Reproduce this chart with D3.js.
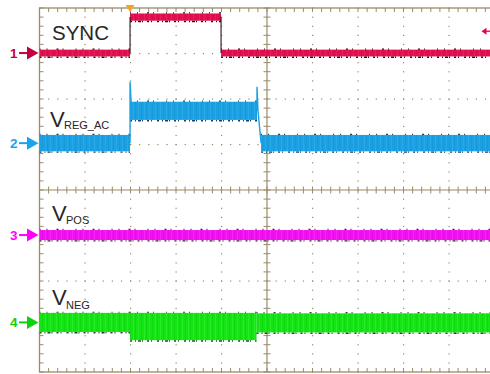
<!DOCTYPE html>
<html><head><meta charset="utf-8">
<script src="https://cdn.jsdelivr.net/npm/d3@7"></script>
<style>html,body{margin:0;padding:0;background:#fff;overflow:hidden}</style>
</head><body>
<svg id="c" width="490" height="374"></svg>
<script>
// ---- data (time in divisions 0..10, amplitude in divisions -4..4) ----
const channels = ["1", "2", "3", "4"];
const channelNames = ["SYNC", "V", "V", "V"];
const channelSubs = ["", "REG_AC", "POS", "NEG"];
const markerColors = ["#c4003e", "#18a4ec", "#ff00ff", "#10d010"];
const markerLevels = [3.01, 1.03, -0.99, -2.91];

const syncStart = [0, 1.99, 3.99];
const syncEnd = [1.99, 3.99, 10];
const syncLevels = [3.01, 3.80, 3.01];
const syncHalf = [0.075, 0.08, 0.075];

const vregStart = [0, 1.99, 4.87];
const vregEnd = [1.99, 4.78, 10];
const vregLevels = [1.03, 1.74, 1.03];
const vregHalf = [0.18, 0.2, 0.18];
const vregSpikeT = [1.99, 4.78];
const vregSpikeV = [2.38, 2.27];

const vposStart = [0];
const vposEnd = [10];
const vposLevels = [-0.99];
const vposHalf = [0.11];

const vnegStart = [0, 1.99, 4.77];
const vnegEnd = [1.99, 4.77, 10];
const vnegLevels = [-2.91, -3.0, -2.92];
const vnegHalf = [0.21, 0.3, 0.21];

const triggerTime = 1.99;
const triggerLevel = 3.49;

// ---- scales ----
const svg = d3.select("#c");
const x = d3.scaleLinear().domain([0, 10]).range([39.5, 494.5]);
const y = d3.scaleLinear().domain([-4, 4]).range([372, 8]);
const gridCol = "#9a8a68";

// noise-like patterns
const defs = svg.append("defs");
function makePattern(id, base, dark, light) {
  const p = defs.append("pattern").attr("id", id).attr("patternUnits", "userSpaceOnUse")
    .attr("width", 11).attr("height", 40);
  p.append("rect").attr("width", 11).attr("height", 40).attr("fill", base);
  [1, 6].forEach(s => p.append("rect").attr("x", s).attr("width", 1).attr("height", 40).attr("fill", light).attr("opacity", 0.25));
  [3, 9].forEach(s => p.append("rect").attr("x", s).attr("width", 1).attr("height", 40).attr("fill", dark).attr("opacity", 0.18));
}
makePattern("p1", "#e0104f", "#b00040", "#ff4080");
makePattern("p2", "#1ba0e2", "#0b78b8", "#50c0f5");
makePattern("p3", "#f010f0", "#c000c0", "#ff60ff");
makePattern("p4", "#14e414", "#00a800", "#60ff60");

// ---- grid ----
const g = svg.append("g");
const minor = d3.range(0, 10.001, 0.2);
const minorY = d3.range(-4, 4.001, 0.2);
const majX = d3.range(1, 10, 1).filter(d => d !== 5);
const majY = d3.range(-3, 4, 1).filter(d => d !== 0);
majX.forEach(t => minorY.forEach(v => g.append("rect").attr("x", x(t) - 0.5).attr("y", y(v) - 0.5).attr("width", 1.2).attr("height", 1.2).attr("fill", gridCol)));
majY.forEach(v => minor.forEach(t => g.append("rect").attr("x", x(t) - 0.5).attr("y", y(v) - 0.5).attr("width", 1.2).attr("height", 1.2).attr("fill", gridCol)));
g.append("line").attr("x1", x(0)).attr("x2", x(10)).attr("y1", y(0)).attr("y2", y(0)).attr("stroke", gridCol).attr("stroke-width", 1.2);
g.append("line").attr("x1", x(5)).attr("x2", x(5)).attr("y1", y(-4)).attr("y2", y(4)).attr("stroke", gridCol).attr("stroke-width", 1.2);
minor.forEach(t => g.append("line").attr("x1", x(t)).attr("x2", x(t)).attr("y1", y(0) - 3.5).attr("y2", y(0) + 3.5).attr("stroke", gridCol).attr("stroke-width", 1));
minorY.forEach(v => g.append("line").attr("x1", x(5) - 3.5).attr("x2", x(5) + 3.5).attr("y1", y(v)).attr("y2", y(v)).attr("stroke", gridCol).attr("stroke-width", 1));
g.append("rect").attr("x", x(0)).attr("y", y(4)).attr("width", x(10) - x(0)).attr("height", y(-4) - y(4)).attr("fill", "none").attr("stroke", gridCol).attr("stroke-width", 1.3);
minor.forEach(t => {
  g.append("line").attr("x1", x(t)).attr("x2", x(t)).attr("y1", y(4)).attr("y2", y(4) + 4).attr("stroke", gridCol);
  g.append("line").attr("x1", x(t)).attr("x2", x(t)).attr("y1", y(-4)).attr("y2", y(-4) - 4).attr("stroke", gridCol);
});
minorY.forEach(v => {
  g.append("line").attr("x1", x(0)).attr("x2", x(0) + 4).attr("y1", y(v)).attr("y2", y(v)).attr("stroke", gridCol);
});

// ---- labels ----
const lab = svg.append("g").attr("font-family", "'Liberation Sans', Arial, sans-serif").attr("fill", "#262626");
lab.append("text").attr("x", 52).attr("y", 40).attr("font-size", 20.5).text(channelNames[0]);
const vpos = [[50, 126.5, 64, 129], [52, 220.5, 66, 224], [52, 304.5, 66, 309]];
vpos.forEach((p, i) => {
  lab.append("text").attr("x", p[0]).attr("y", p[1]).attr("font-size", 22).text(channelNames[i + 1]);
  lab.append("text").attr("x", p[2]).attr("y", p[3]).attr("font-size", 11).text(channelSubs[i + 1]);
});

// ---- traces ----
function band(gr, starts, ends, levels, half, pat, dark) {
  levels.forEach((lv, i) => {
    const x0 = x(starts[i]), x1 = x(ends[i]);
    gr.append("rect").attr("x", x0).attr("y", y(lv + half[i])).attr("width", x1 - x0)
      .attr("height", y(lv - half[i]) - y(lv + half[i])).attr("fill", `url(#${pat})`);
    gr.append("line").attr("x1", x0).attr("x2", x1).attr("y1", y(lv - half[i]) + 0.8).attr("y2", y(lv - half[i]) + 0.8)
      .attr("stroke", dark).attr("stroke-width", 1.4).attr("stroke-dasharray", "2 3 1 2 3 1 1 4 2 2 1 5");
    gr.append("line").attr("x1", x0).attr("x2", x1).attr("y1", y(lv + half[i]) - 0.6).attr("y2", y(lv + half[i]) - 0.6)
      .attr("stroke", dark).attr("stroke-width", 1.2).attr("stroke-dasharray", "1 6 1 9 2 4 1 12");
  });
}
defs.append("clipPath").attr("id", "clipPlot").append("rect").attr("x", x(0)).attr("y", y(4)).attr("width", x(10) - x(0)).attr("height", y(-4) - y(4));
const tr = svg.append("g").attr("clip-path", "url(#clipPlot)");

band(tr, vnegStart, vnegEnd, vnegLevels, vnegHalf, "p4", "#0a5a0a");
band(tr, vposStart, vposEnd, vposLevels, vposHalf, "p3", "#501050");
band(tr, vregStart, vregEnd, vregLevels, vregHalf, "p2", "#0a3f70");
tr.append("path").attr("fill", "none").attr("stroke", "#1ba0e2").attr("stroke-width", 1.4)
  .attr("d", d3.line()([[x(vregSpikeT[0]), y(vregLevels[0])], [x(vregSpikeT[0]), y(vregSpikeV[0])], [x(vregSpikeT[0]) + 1.5, y(vregLevels[1])]]));
tr.append("path").attr("fill", "none").attr("stroke", "#1ba0e2").attr("stroke-width", 1.4)
  .attr("d", d3.line()([[x(vregSpikeT[1]), y(vregLevels[1])], [x(vregSpikeT[1]), y(vregSpikeV[1])], [x(vregSpikeT[1]) + 1, y(vregLevels[1])], [x(vregStart[2]), y(vregLevels[2])]]));
band(tr, syncStart, syncEnd, syncLevels, syncHalf, "p1", "#3a0010");
[1, 2].forEach(i => tr.append("line").attr("x1", x(syncStart[i])).attr("x2", x(syncStart[i]))
  .attr("y1", y(syncLevels[i - 1])).attr("y2", y(syncLevels[i])).attr("stroke", "#301018").attr("stroke-width", 1.1));

// ---- markers ----
const mk = svg.append("g");
channels.forEach((c, i) => {
  const yy = y(markerLevels[i]);
  mk.append("text").attr("x", 10).attr("y", yy + 5).attr("font-family", "'Liberation Sans', Arial, sans-serif")
    .attr("font-weight", "bold").attr("font-size", 13.5).attr("fill", markerColors[i]).text(c);
  mk.append("line").attr("x1", 19).attr("x2", 29).attr("y1", yy).attr("y2", yy).attr("stroke", markerColors[i]).attr("stroke-width", 2);
  mk.append("path").attr("d", `M27,${yy - 6.5}L38.5,${yy}L27,${yy + 6.5}Z`).attr("fill", markerColors[i]);
});
mk.append("path").attr("d", `M${x(triggerTime) - 4.5},${y(4) - 3}L${x(triggerTime) + 4.5},${y(4) - 3}L${x(triggerTime)},${y(4) + 4}Z`).attr("fill", "#f7a21b");
const ty = y(triggerLevel);
mk.append("path").attr("d", `M481.5,${ty}L486.5,${ty - 3.5}L486.5,${ty + 3.5}Z`).attr("fill", "#e8004a");
mk.append("line").attr("x1", 485).attr("x2", 490).attr("y1", ty).attr("y2", ty).attr("stroke", "#e8004a").attr("stroke-width", 1.3);
</script>
</body></html>
